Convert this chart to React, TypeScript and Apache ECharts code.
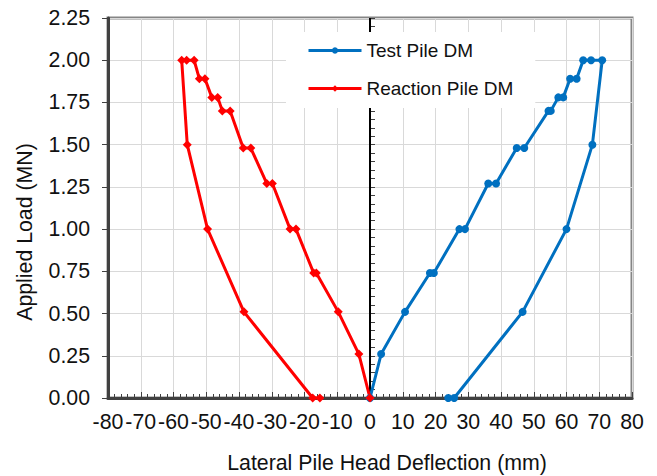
import React, { useEffect, useRef } from "react";
import * as echarts from "echarts";

// Applied load (MN) for each reading
const loadSteps = [0, 0.26, 0.51, 0.74, 0.74, 1.0, 1.0, 1.27, 1.27, 1.48, 1.48, 1.7, 1.7, 1.78, 1.78, 1.89, 1.89, 2.0, 2.0, 2.0, 1.5, 1.0, 0.51, 0, 0];
// Lateral pile head deflection (mm)
const testPileDeflection = [0, 3.4, 10.7, 18.3, 19.5, 27.3, 29.0, 36.1, 38.5, 44.8, 47.1, 54.5, 55.2, 57.5, 59.0, 61.1, 63.1, 65.1, 67.5, 70.9, 67.9, 60.0, 46.6, 25.7, 23.9];
const reactionPileDeflection = [0, -3.4, -9.7, -16.4, -17.2, -22.6, -24.4, -29.8, -31.5, -36.4, -38.7, -42.7, -45.1, -46.5, -48.3, -50.4, -52.1, -53.7, -56.0, -57.5, -55.8, -49.6, -38.5, -17.5, -15.3];

const seriesNames = ["Test Pile DM", "Reaction Pile DM"];
const xTitle = "Lateral Pile Head Deflection (mm)";
const yTitle = "Applied Load (MN)";

const FONT = "Liberation Sans, Arial, sans-serif";
const FS = 21.3;

export default function App() {
  const ref = useRef<HTMLDivElement>(null);
  useEffect(() => {
    if (!ref.current) return;
    const chart = echarts.init(ref.current, undefined, { renderer: "svg" });
    const testData = testPileDeflection.map((x, i) => [x, loadSteps[i]]);
    const reactData = reactionPileDeflection.map((x, i) => [x, loadSteps[i]]);
    chart.setOption({
      animation: false,
      backgroundColor: "#ffffff",
      textStyle: { fontFamily: FONT },
      grid: {
        left: 108,
        right: 25,
        top: 18,
        bottom: 78,
        show: true,
        borderColor: "#858585",
        borderWidth: 3,
        backgroundColor: "transparent",
      },
      legend: {
        data: seriesNames,
        orient: "vertical",
        left: 286,
        top: 32,
        z: 50,
        itemWidth: 53,
        itemHeight: 8,
        itemGap: 19,
        padding: [9, 22, 10, 21],
        backgroundColor: "#ffffff",
        borderWidth: 0,
        lineStyle: { width: 3 },
        textStyle: { fontSize: 19, color: "#111", fontFamily: FONT },
      },
      xAxis: {
        type: "value",
        min: -80,
        max: 80,
        interval: 10,
        axisLine: { show: true, onZero: false, lineStyle: { color: "#404040", width: 3 } },
        axisTick: { show: true, inside: true, length: 6, lineStyle: { color: "#404040", width: 1 } },
        minorTick: { show: true, splitNumber: 5, length: 4, lineStyle: { color: "#404040", width: 1 } },
        axisLabel: { fontSize: FS, color: "#111", margin: 13, fontFamily: FONT },
        splitLine: { show: true, lineStyle: { color: "#d9d9d9", width: 1 } },
      },
      yAxis: [
        {
          type: "value",
          min: 0,
          max: 2.25,
          interval: 0.25,
          axisLine: { show: true, onZero: false, lineStyle: { color: "#404040", width: 3 } },
          axisTick: { show: true, inside: false, length: 6, lineStyle: { color: "#404040", width: 1 } },
          axisLabel: {
            fontSize: FS,
            color: "#111",
            margin: 18,
            fontFamily: FONT,
            formatter: (v: number) => v.toFixed(2),
          },
          splitLine: { show: true, lineStyle: { color: "#d9d9d9", width: 1 } },
        },
        {
          type: "value",
          position: "left",
          min: 0,
          max: 2.25,
          interval: 0.05,
          axisLine: { show: false },
          axisTick: { show: true, inside: true, length: 5, lineStyle: { color: "#404040", width: 1 } },
          axisLabel: { show: false },
          splitLine: { show: false },
        },
      ],
      graphic: [
        {
          type: "text",
          x: 387,
          y: 463,
          style: {
            text: xTitle,
            fontSize: FS,
            fontFamily: FONT,
            fill: "#111",
            textAlign: "center",
            textVerticalAlign: "middle",
          },
        },
        {
          type: "text",
          x: 25,
          y: 232,
          rotation: Math.PI / 2,
          style: {
            text: yTitle,
            fontSize: FS,
            fontFamily: FONT,
            fill: "#111",
            textAlign: "center",
            textVerticalAlign: "middle",
          },
        },
      ],
      series: [
        {
          name: seriesNames[0],
          type: "line",
          data: testData,
          symbol: "circle",
          symbolSize: 8,
          lineStyle: { color: "#0070C0", width: 3 },
          itemStyle: { color: "#0070C0" },
          markLine: {
            silent: true,
            symbol: "none",
            z: 1,
            label: { show: false },
            lineStyle: { color: "#000000", width: 2, type: "solid" },
            data: [{ xAxis: 0 }],
          },
        },
        {
          name: seriesNames[1],
          type: "line",
          data: reactData,
          symbol: "diamond",
          symbolSize: 9,
          lineStyle: { color: "#FF0000", width: 3 },
          itemStyle: { color: "#FF0000" },
        },
      ],
    });
    return () => chart.dispose();
  }, []);
  return <div ref={ref} style={{ width: 657, height: 476, position: "absolute", left: 0, top: 0 }} />;
}
